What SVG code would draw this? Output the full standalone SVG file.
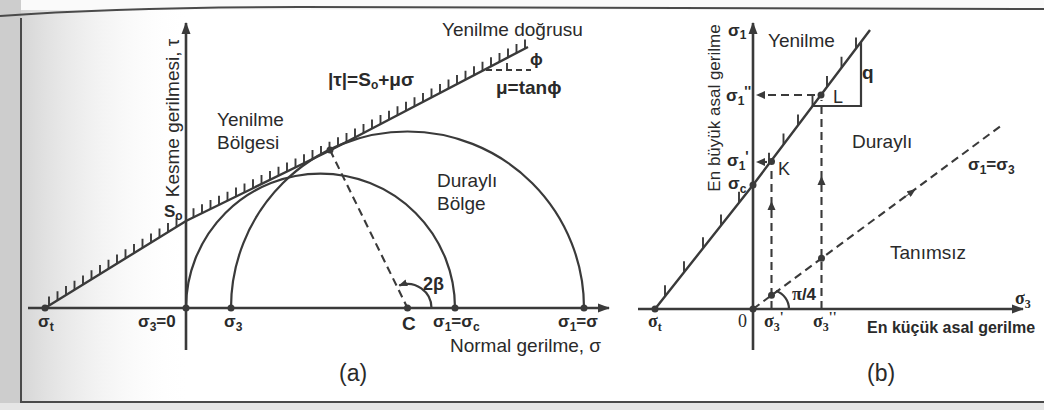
<svg xmlns="http://www.w3.org/2000/svg" width="1044" height="410" viewBox="0 0 1044 410">
<defs>
<style>
.ax{stroke:#3a3a3a;stroke-width:2.6;fill:none}
.ln{stroke:#3a3a3a;stroke-width:2.4;fill:none}
.arc{stroke:#3a3a3a;stroke-width:2.2;fill:none}
.dash{stroke:#3a3a3a;stroke-width:2.1;fill:none;stroke-dasharray:8 5}
.hatch{stroke:#3a3a3a;stroke-width:1.9;fill:none}
.pt{fill:#3a3a3a}
.ah{fill:#3a3a3a}
text{font-family:"Liberation Sans",Arial,sans-serif;fill:#2a2a2a}
.t{font-size:19px}
.b{font-size:17px;font-weight:bold}
.s{font-family:"Liberation Serif","Times New Roman",serif;font-weight:bold;font-size:18px}
.sub{font-size:12px}
.pr{font-size:14px}
</style>
<marker id="ah" viewBox="0 0 12 10" refX="11" refY="5" markerWidth="13" markerHeight="10" markerUnits="userSpaceOnUse" orient="auto"><path d="M0,0.5 L12,5 L0,9.5 z" fill="#3a3a3a"/></marker>
<marker id="sa" viewBox="0 0 10 8" refX="9" refY="4" markerWidth="9" markerHeight="7" markerUnits="userSpaceOnUse" orient="auto"><path d="M0,0 L10,4 L0,8 z" fill="#3a3a3a"/></marker>
<linearGradient id="shade" x1="0" x2="1" y1="0" y2="0"><stop offset="0" stop-color="#d6d6d6"/><stop offset="1" stop-color="#ffffff" stop-opacity="0"/></linearGradient>
</defs>

<g id="page">
<rect x="0" y="0" width="1044" height="410" fill="#fafafa"/>
<rect x="0" y="0" width="21" height="410" fill="#cdcdcd"/>
<rect x="21" y="10" width="1023" height="392" fill="#ffffff"/>
<rect x="21" y="10" width="170" height="392" fill="url(#shade)"/>
<rect x="0" y="403" width="1044" height="7" fill="#e6e6e6"/>
<path d="M0,16 Q120,7 300,7 L1044,9" stroke="#4a4a4a" stroke-width="2" fill="none"/>
<path d="M21,18 V402 H1044" stroke="#4a4a4a" stroke-width="2" fill="none"/>
</g>

<g id="panel-a">
<g id="a-axes">
<path class="ax" d="M186,350 V23" marker-end="url(#ah)"/>
<path class="ax" d="M28,308 H609" marker-end="url(#ah)"/>
</g>
<g id="a-connectors">
<path class="ln" d="M45,308 L186,221 L331,150 L528,47"/>
<path class="hatch" d="M49,305.5v-9 M57.5,300.3v-9 M66,295v-9 M74.5,289.8v-9 M83,284.6v-9 M91.5,279.3v-9 M100,274.1v-9 M108.5,268.8v-9 M117,263.6v-9 M125.5,258.3v-9 M134,253.1v-9 M142.5,247.8v-9 M151,242.6v-9 M159.5,237.4v-9 M168,232.1v-9 M176.5,226.9v-9 M193.5,217.3v-9 M202,213.2v-9 M210.5,209v-9 M219,204.8v-9 M227.5,200.7v-9 M236,196.5v-9 M244.5,192.4v-9 M253,188.2v-9 M261.5,184v-9 M270,179.9v-9 M278.5,175.7v-9 M287,171.5v-9 M295.5,167.4v-9 M304,163.2v-9 M312.5,159.1v-9 M321,154.9v-9 M329.5,150.7v-9 M338,146.3v-9 M346.5,141.9v-9 M355,137.5v-9 M363.5,133v-9 M372,128.6v-9 M380.5,124.1v-9 M389,119.7v-9 M397.5,115.2v-9 M406,110.8v-9 M414.5,106.3v-9 M423,101.9v-9 M431.5,97.5v-9 M440,93v-9 M448.5,88.6v-9 M457,84.1v-9 M465.5,79.7v-9 M474,75.2v-9 M482.5,70.8v-9 M491,66.3v-9 M499.5,61.9v-9 M508,57.5v-9 M516.5,53v-9 M525,48.6v-9"/>
<path class="arc" d="M186,308 A134.5,134.5 0 0 1 455,308"/>
<path class="arc" d="M231,308 A176.5,176.5 0 0 1 584,308"/>
<path class="dash" d="M330,150 L407.5,308"/>
<path class="arc" d="M431.5,308 A24,24 0 0 0 399.3,285.4" marker-end="url(#sa)"/>
<path class="dash" style="stroke-dasharray:6 4" d="M486,70 H531"/>
<path class="hatch" d="M507,63 V70"/>
</g>
<g id="a-points">
<circle class="pt" cx="45" cy="308" r="3.5"/>
<circle class="pt" cx="186" cy="308" r="3.5"/>
<circle class="pt" cx="231" cy="308" r="3.5"/>
<circle class="pt" cx="407.5" cy="308" r="3.5"/>
<circle class="pt" cx="455" cy="308" r="3.5"/>
<circle class="pt" cx="584" cy="308" r="3.5"/>
<circle class="pt" cx="330" cy="150" r="3.5"/>
</g>
<g id="a-labels">
<text class="t" transform="translate(179,118) rotate(-90)" text-anchor="middle">Kesme gerilmesi, τ</text>
<text class="t" x="442" y="36">Yenilme doğrusu</text>
<text class="b" style="font-size:19px" x="328" y="86">|τ|=S<tspan class="sub" dy="3">o</tspan><tspan dy="-3">+μσ</tspan></text>
<text class="b" x="530" y="65">ϕ</text>
<text class="b" style="font-size:19px" x="496" y="94">μ=tanϕ</text>
<text class="t" x="217" y="126">Yenilme</text>
<text class="t" x="217" y="149">Bölgesi</text>
<text class="t" x="437" y="187">Duraylı</text>
<text class="t" x="437" y="210">Bölge</text>
<text class="b" style="font-size:18px" x="423" y="290">2β</text>
<text class="b" x="164" y="217">S<tspan class="sub" dy="3">o</tspan></text>
<text class="b" x="38" y="327">σ<tspan class="sub" dy="4">t</tspan></text>
<text class="b" x="138" y="327">σ<tspan class="sub" dy="4">3</tspan><tspan dy="-4">=0</tspan></text>
<text class="b" x="224" y="327">σ<tspan class="sub" dy="4">3</tspan></text>
<text class="b" style="font-size:19px" x="402" y="330">C</text>
<text class="b" x="433" y="327">σ<tspan class="sub" dy="4">1</tspan><tspan dy="-4">=σ</tspan><tspan class="sub" dy="4">c</tspan></text>
<text class="b" x="558" y="327">σ<tspan class="sub" dy="4">1</tspan><tspan dy="-4">=σ</tspan></text>
<text class="t" x="450" y="352">Normal gerilme, σ</text>
<text x="339" y="381" style="font-size:23px">(a)</text>
</g>
</g>

<g id="panel-b">
<g id="b-axes">
<path class="ax" d="M753,350 V23" marker-end="url(#ah)"/>
<path class="ax" d="M638,309 H1023" marker-end="url(#ah)"/>
</g>
<g id="b-connectors">
<path class="ln" d="M655,309 L753,185 L870,30"/>
<path class="hatch" d="M665,296.3v-11 M684,272.3v-11 M703,248.3v-11 M721,225.5v-11 M739,202.7v-11 M769,163.8v-11 M783.5,144.6v-11 M798,125.4v-11 M812.5,106.2v-11 M827,87v-11 M841.5,67.7v-11 M856,48.5v-11"/>
<path class="ln" style="stroke-width:2.2" d="M812.6,106 H861 V42"/>
<path class="dash" d="M753,309 L1002,125"/>
<path class="arc" style="stroke-width:1" d="M905,196.9 L915,189.5" marker-end="url(#sa)"/>
<path class="dash" d="M771.5,309 V166"/>
<path class="ah" d="M771.5,201 l-4,9 h8 z"/>
<path class="dash" d="M821.5,309 V100"/>
<path class="ah" d="M821.5,176 l-4,9 h8 z"/>
<path class="dash" d="M815,95 H762"/>
<path class="ah" d="M756,95 l9,-4 v8 z"/>
<path class="dash" d="M767,162 H762"/>
<path class="ah" d="M756,162 l9,-4 v8 z"/>
<path class="arc" d="M776,291 A19,19 0 0 1 789,309"/>
</g>
<g id="b-points">
<circle class="pt" cx="655" cy="309" r="3.5"/>
<circle class="pt" cx="753" cy="309" r="3.5"/>
<circle class="pt" cx="753" cy="185" r="3.5"/>
<circle class="pt" cx="771.5" cy="161.5" r="3.5"/>
<circle class="pt" cx="821" cy="95" r="3.5"/>
<circle class="pt" cx="771.5" cy="295.3" r="3.5"/>
<circle class="pt" cx="821.5" cy="258.3" r="3.5"/>
</g>
<g id="b-labels">
<text class="t" style="font-size:17px" transform="translate(720,108) rotate(-90)" text-anchor="middle">En büyük asal gerilme</text>
<text class="b" x="728" y="36">σ<tspan class="sub" dy="3">1</tspan></text>
<text class="t" x="768" y="47">Yenilme</text>
<text class="b" style="font-size:19px" x="862" y="79">q</text>
<text class="b" x="726" y="101">σ<tspan class="sub" dy="4">1</tspan><tspan class="pr" dy="-9">''</tspan></text>
<text class="b" x="727" y="166">σ<tspan class="sub" dy="4">1</tspan><tspan class="pr" dy="-9">'</tspan></text>
<text class="b" x="728" y="189">σ<tspan class="sub" dy="4">c</tspan></text>
<text class="t" style="font-size:18px" x="778" y="175">K</text>
<text class="t" style="font-size:18px" x="833" y="103">L</text>
<text class="t" x="852" y="148">Duraylı</text>
<text class="b" x="968" y="170">σ<tspan class="sub" dy="4">1</tspan><tspan dy="-4">=σ</tspan><tspan class="sub" dy="4">3</tspan></text>
<text class="t" x="890" y="259">Tanımsız</text>
<text class="b" x="792" y="300"><tspan class="s" style="font-size:18px">π</tspan>/4</text>
<text class="s" x="1015" y="304">σ<tspan class="sub" dy="4">3</tspan></text>
<text class="s" x="648" y="327">σ<tspan class="sub" dy="4">t</tspan></text>
<text class="s" style="font-weight:normal" x="738" y="327">0</text>
<text class="s" x="764" y="327">σ<tspan class="sub" dy="4">3</tspan><tspan class="pr" dy="-9">'</tspan></text>
<text class="s" x="813" y="327">σ<tspan class="sub" dy="4">3</tspan><tspan class="pr" dy="-9">''</tspan></text>
<text class="b" style="font-size:16px" x="867" y="333">En küçük asal gerilme</text>
<text x="867" y="381" style="font-size:23px">(b)</text>
</g>
</g>
</svg>
